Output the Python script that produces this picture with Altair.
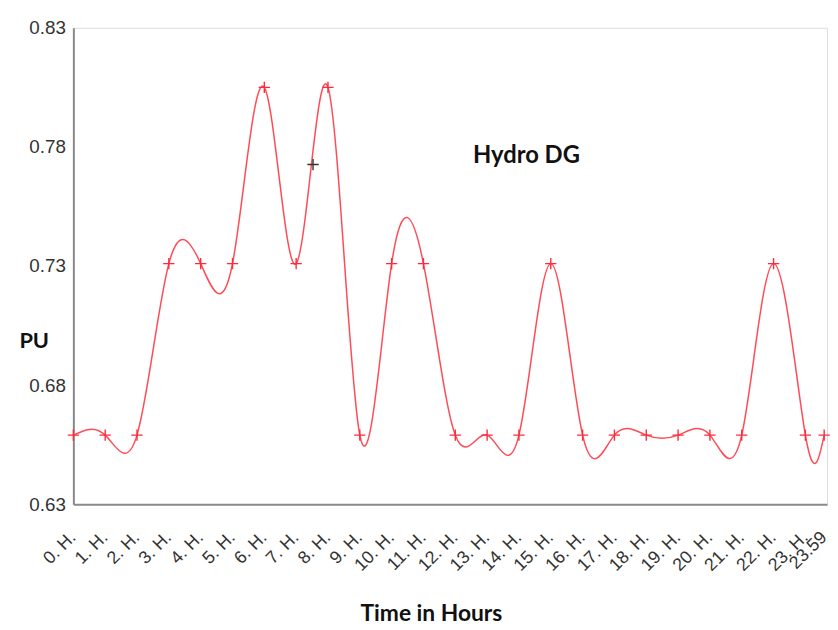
import altair as alt
import pandas as pd

# ---- data ----
hours = [0, 1, 2, 3, 4, 5, 6, 7, 8, 9, 10, 11, 12, 13, 14, 15, 16, 17, 18, 19, 20, 21, 22, 23, 23.59]
pu = [0.659, 0.659, 0.659, 0.731, 0.731, 0.731, 0.805, 0.731, 0.805, 0.659,
      0.731, 0.731, 0.659, 0.659, 0.659, 0.731, 0.659, 0.659, 0.659, 0.659,
      0.659, 0.659, 0.731, 0.659, 0.659]
tick_labels = [f"{h}. H." for h in range(24)] + ["23.59"]
y_ticks = [0.63, 0.68, 0.73, 0.78, 0.83]
probe_hour = [7.53]
probe_pu = [0.7726]

df = pd.DataFrame({"hour": hours, "pu": pu})
labels_df = pd.DataFrame({"hour": hours, "label": tick_labels})
probe = pd.DataFrame({"hour": probe_hour, "pu": probe_pu})

x_scale = alt.Scale(domain=[0, 23.68], nice=False, zero=False)
y_scale = alt.Scale(domain=[0.63, 0.83], nice=False, zero=False)

x_enc = alt.X(
    "hour:Q",
    scale=x_scale,
    axis=alt.Axis(
        values=hours,
        labels=False,
        ticks=False,
        grid=False,
        domainColor="#8a8a8a",
        domainWidth=2,
        title="Time in Hours",
        titleFont="Lato",
        titleFontSize=23,
        titleFontWeight="bold",
        titleColor="#111111",
        titleX=361,
        titleY=110,
        titleAlign="center",
        titleBaseline="middle",
    ),
)

y_enc = alt.Y(
    "pu:Q",
    scale=y_scale,
    axis=alt.Axis(
        values=y_ticks,
        format=".2f",
        labelFont="Liberation Sans",
        labelFontSize=19,
        labelColor="#333333",
        labelPadding=8,
        ticks=False,
        grid=False,
        domainColor="#8a8a8a",
        domainWidth=2,
        title="PU",
        titleFont="Lato",
        titleFontSize=22,
        titleFontWeight="bold",
        titleColor="#111111",
        titleAngle=0,
        titleX=-55,
        titleY=316,
        titleAlign="left",
        titleBaseline="middle",
    ),
)

base = alt.Chart(df)

line = base.mark_line(interpolate="natural", color="#ff4b55", strokeWidth=1.5).encode(x=x_enc, y=y_enc)

plus_path = "M-1,0H1M0,-1V1"
points = base.mark_point(
    shape=plus_path, filled=False, size=130, stroke="#ff2a3a", strokeWidth=1.4, opacity=1
).encode(x="hour:Q", y="pu:Q")

probe_pt = alt.Chart(probe).mark_point(
    shape=plus_path, filled=False, size=130, stroke="#333333", strokeWidth=1.4, opacity=1
).encode(x="hour:Q", y="pu:Q")

# rotated hour labels under the x axis (offset applied in the rotated text frame)
hour_labels = alt.Chart(labels_df).mark_text(
    angle=315,
    align="right",
    baseline="middle",
    font="Liberation Sans",
    fontSize=18,
    color="#333333",
    dx=-22,
    dy=22,
).encode(x="hour:Q", y=alt.datum(0.63), text="label:N")

chart = (
    alt.layer(line, points, probe_pt, hour_labels)
    .properties(
        width=761,
        height=481,
        autosize=alt.AutoSizeParams(type="none"),
        padding={"left": 66, "top": 17, "right": 3, "bottom": 121},
        title=alt.TitleParams(
            text="Hydro DG",
            font="Lato",
            fontSize=24,
            fontWeight="bold",
            color="#111111",
            anchor="middle",
            frame="group",
            offset=0,
            dx=77,
            dy=150,
        ),
    )
    .configure_view(stroke=None)
    .configure(background="white")
)

chart.save("out.html", embed_options={"renderer": "svg", "actions": False})
